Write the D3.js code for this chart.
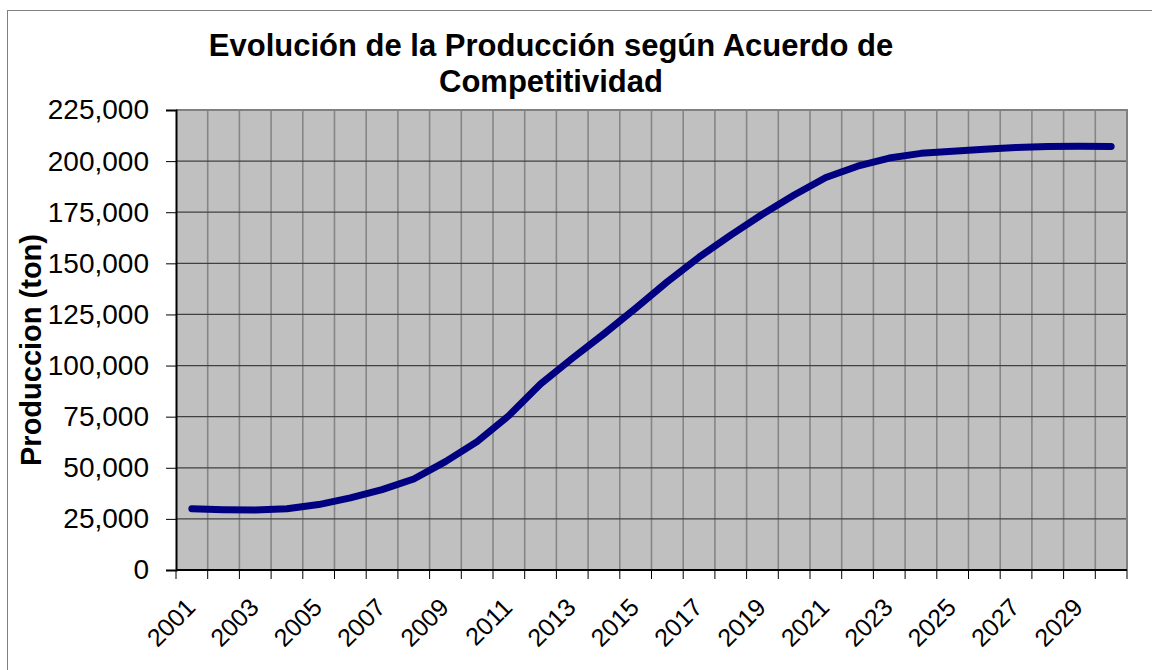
<!DOCTYPE html>
<html>
<head>
<meta charset="utf-8">
<script src="https://cdn.jsdelivr.net/npm/d3@7"></script>
<style>
  html, body { margin: 0; padding: 0; background: #fff; }
  svg { display: block; font-family: "Liberation Sans", Arial, sans-serif; }
</style>
</head>
<body>
<svg id="chart" width="1152" height="670"></svg>
<script>
const years = ["2001","2002","2003","2004","2005","2006","2007","2008","2009","2010",
  "2011","2012","2013","2014","2015","2016","2017","2018","2019","2020",
  "2021","2022","2023","2024","2025","2026","2027","2028","2029","2030"];
const produccion = [30000, 29500, 29300, 30000, 32000, 35300, 39300, 44500, 53000, 62800,
  75500, 91000, 103500, 115500, 128000, 141000, 153000, 163800, 174000, 183400,
  192000, 197500, 201500, 203800, 204800, 205800, 206600, 207100, 207300, 207200];
const yTicks = [0, 25000, 50000, 75000, 100000, 125000, 150000, 175000, 200000, 225000];
const xLabels = ["2001","2003","2005","2007","2009","2011","2013","2015","2017","2019",
  "2021","2023","2025","2027","2029"];
const titleLines = ["Evolución de la Producción según Acuerdo de", "Competitividad"];
const yTitle = "Produccion (ton)";

const svg = d3.select("#chart");
const m = {left: 176, top: 110, right: 1127, bottom: 570};

// outer frame
svg.append("rect").attr("x", 7.5).attr("y", 10.5).attr("width", 1200).attr("height", 700)
  .attr("fill", "#fff").attr("stroke", "#808080").attr("stroke-width", 1);

const x = d3.scaleBand().domain(years).range([m.left, m.right]).padding(0);
const y = d3.scaleLinear().domain([0, 225000]).range([m.bottom, m.top]);
const bw = x.bandwidth();

// plot background
svg.append("rect").attr("x", m.left).attr("y", m.top)
  .attr("width", m.right - m.left).attr("height", m.bottom - m.top)
  .attr("fill", "#c0c0c0");

// vertical gridlines at band boundaries
const edges = years.map(d => x(d)).concat([x(years[years.length - 1]) + bw]);
svg.append("g").selectAll("line").data(edges.slice(1, -1)).join("line")
  .attr("x1", d => d).attr("x2", d => d).attr("y1", m.top).attr("y2", m.bottom)
  .attr("stroke", "#868686").attr("stroke-width", 1.6);

// horizontal gridlines
svg.append("g").selectAll("line").data(yTicks.slice(1, -1)).join("line")
  .attr("x1", m.left).attr("x2", m.right).attr("y1", d => y(d)).attr("y2", d => y(d))
  .attr("stroke", "#404040").attr("stroke-width", 1.2);

// top & right border
svg.append("path")
  .attr("d", `M${m.left},${m.top}H${m.right}V${m.bottom}`)
  .attr("fill", "none").attr("stroke", "#808080").attr("stroke-width", 2);

// y axis
const yAxis = d3.axisLeft(y).tickValues(yTicks).tickSize(10).tickPadding(17)
  .tickFormat(d3.format(","));
const gy = svg.append("g").attr("transform", `translate(${m.left},0)`).call(yAxis);
gy.select(".domain").attr("stroke", "#000").attr("stroke-width", 2);
gy.selectAll(".tick line").attr("stroke", "#000").attr("stroke-width", 1);
gy.selectAll(".tick text").attr("font-size", 28).attr("fill", "#000")
  .attr("font-family", "Liberation Sans, Arial, sans-serif");

// x axis: band edges as ticks
const gx = svg.append("g").attr("transform", `translate(0,${m.bottom})`);
gx.append("line").attr("x1", m.left).attr("x2", m.right).attr("y1", 0).attr("y2", 0)
  .attr("stroke", "#000").attr("stroke-width", 2);
gx.selectAll("line.tk").data(edges).join("line").attr("class", "tk")
  .attr("x1", d => d).attr("x2", d => d).attr("y1", 0).attr("y2", 9)
  .attr("stroke", "#000").attr("stroke-width", 1);
const xAxis = d3.axisBottom(x).tickValues(xLabels).tickSize(0).tickPadding(0);
const gxl = svg.append("g").attr("transform", `translate(0,${m.bottom})`).call(xAxis);
gxl.select(".domain").remove();
gxl.selectAll(".tick text")
  .attr("font-size", 25).attr("fill", "#000")
  .attr("font-family", "Liberation Sans, Arial, sans-serif")
  .attr("text-anchor", "end").attr("dy", 0).attr("y", 0)
  .attr("transform", "translate(5,39) rotate(-45)");

// line
const line = d3.line().x((d, i) => x(years[i]) + bw / 2).y(d => y(d));
svg.append("path").datum(produccion).attr("d", line)
  .attr("fill", "none").attr("stroke", "#000080").attr("stroke-width", 7)
  .attr("stroke-linecap", "round").attr("stroke-linejoin", "round");

// title
svg.append("text").attr("x", 551).attr("text-anchor", "middle")
  .attr("font-size", 31).attr("font-weight", "bold").attr("fill", "#000")
  .selectAll("tspan").data(titleLines).join("tspan")
  .attr("x", 551).attr("y", (d, i) => 56 + i * 36).text(d => d);

// y title
svg.append("text").attr("transform", "translate(41,350) rotate(-90)")
  .attr("text-anchor", "middle").attr("font-size", 29).attr("font-weight", "bold")
  .attr("fill", "#000").text(yTitle);
</script>
</body>
</html>
